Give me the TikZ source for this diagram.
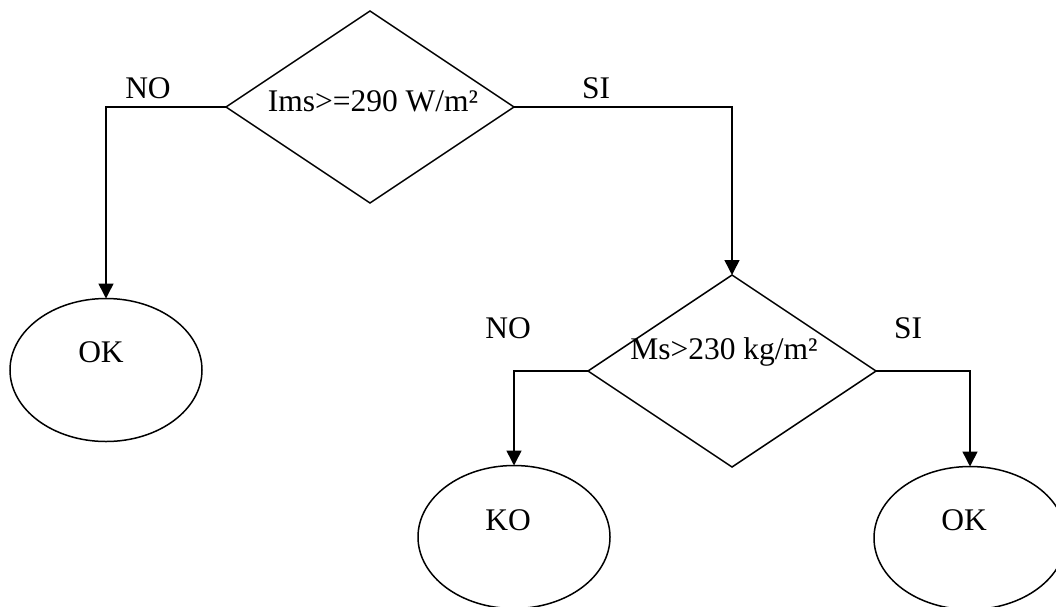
\documentclass[tikz,border=0pt]{standalone}
\usepackage{fontspec}
\setmainfont{Liberation Serif}
\usetikzlibrary{shapes.geometric,arrows.meta}
\tikzset{
  decision/.style={shape=diamond,draw,line width=1.5pt,inner sep=0pt,outer sep=0pt,minimum width=288pt,minimum height=192pt},
  endbox/.style={shape=ellipse,draw,line width=1.5pt,inner sep=0pt,outer sep=0pt,minimum width=192pt,minimum height=143pt},
  lbl/.style={inner sep=0pt,font=\fontsize{31.5}{36}\selectfont},
  link/.style={line width=1.5pt,-{Triangle[width=15pt,length=15pt]}},
  plain/.style={line width=1.5pt}
}
\begin{document}
\begin{tikzpicture}[x=1pt,y=-1pt]
\useasboundingbox (0,0) rectangle (1056,606);
\clip (0,0) rectangle (1056,606);
\fill[white] (0,0) rectangle (1056,606);
\node[decision] (d1) at (370,107) {};
\node[decision] (d2) at (732,371) {};
\node[endbox] (ok1) at (106,370) {};
\node[endbox] (ko) at (514,537) {};
\node[endbox] (ok2) at (970,538) {};
\node[lbl] (t1) at (373,101) {Ims>=290 W/m²};
\node[lbl] (t2) at (724,352) {Ms>230 kg/m²};
\node[lbl] (tok1) at (101,352) {OK};
\node[lbl] (tko) at (508,520) {KO};
\node[lbl] (tok2) at (964,520) {OK};
\node[lbl] (no1) at (148,88) {NO};
\node[lbl] (si1) at (596,88) {SI};
\node[lbl] (no2) at (508,328) {NO};
\node[lbl] (si2) at (908,328) {SI};
\draw[link] (d1.west) -| (ok1.north);
\draw[link] (d1.east) -| (d2.north);
\draw[link] (d2.west) -| (ko.north);
\draw[link] (d2.east) -| (ok2.north);
\end{tikzpicture}
\end{document}
